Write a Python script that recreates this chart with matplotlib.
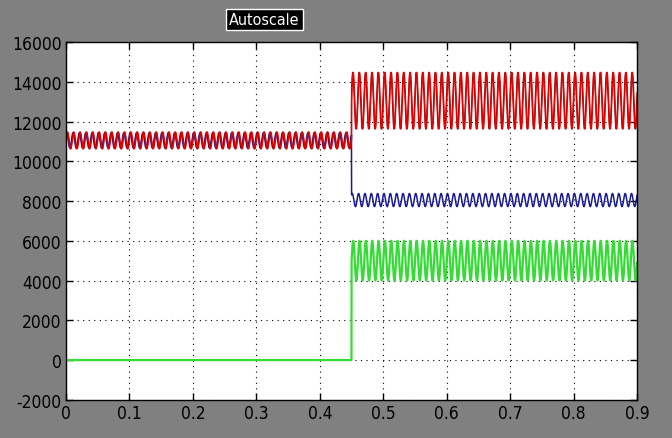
import matplotlib.pyplot as plt
import numpy as np

# scope signals: (t_start, t_end, centre, amplitude, freq Hz)
redSegs = [(0.0, 0.45, 11050, 420, 100), (0.45, 0.9, 13050, 1420, 100)]
blueSegs = [(0.0, 0.45, 11050, 380, 100), (0.45, 0.9, 8050, 330, 100)]
greenSegs = [(0.0, 0.45, 0, 0, 100), (0.45, 0.9, 5000, 1000, 100)]

xTicks = [0, 0.1, 0.2, 0.3, 0.4, 0.5, 0.6, 0.7, 0.8, 0.9]
xLabels = ["0", "0.1", "0.2", "0.3", "0.4", "0.5", "0.6", "0.7", "0.8", "0.9"]
yTicks = [-2000, 0, 2000, 4000, 6000, 8000, 10000, 12000, 14000, 16000]

plt.rcParams['axes.unicode_minus'] = False


def build(segs, phase, start=None):
    tt, yy = [], []
    if start is not None:
        tt.append(0.0)
        yy.append(start)
    for t0, t1, c, a, f in segs:
        t = np.arange(t0, t1, 0.0002)
        tt += t.tolist()
        yy += (c + a * np.sin(2 * np.pi * f * t + phase)).tolist()
    return np.array(tt), np.array(yy)


fig = plt.figure(figsize=(6.72, 4.39), dpi=100, facecolor='#808080')
ax = fig.add_axes([0.0982, 0.087, 0.85, 0.815])
ax.set_facecolor('white')

tB, yB = build(blueSegs, 0.9, start=0)
ax.plot(tB, yB, color='#1a1a99', linewidth=1.1)
tR2, yR2 = build(redSegs, 0.4)
ax.plot(tR2, yR2, color='#a00000', linewidth=1.0)
tR, yR = build(redSegs, 0.0, start=0)
ax.plot(tR, yR, color='#e80000', linewidth=1.0)
tG, yG = build(greenSegs, 0.0)
ax.plot(tG, yG, color='#33dd33', linewidth=1.6)

ax.set_xlim(0, 0.9)
ax.set_ylim(-2000, 16000)
ax.set_xticks(xTicks)
ax.set_xticklabels(xLabels)
ax.set_yticks(yTicks)
ax.grid(True, color='black', linestyle=(0, (1, 4)), linewidth=0.8)
ax.tick_params(direction='in', length=5, width=1, top=True, right=True,
               labelsize=12.5, colors='black', pad=3)
for lab in ax.get_xticklabels() + ax.get_yticklabels():
    lab.set_family(['DejaVu Sans'])
    lab.set_stretch('condensed')
for s in ax.spines.values():
    s.set_color('black')
    s.set_linewidth(1)

fig.text(0.393, 0.953, "Autoscale", color='white', fontsize=11.5, ha='center', va='center',
         family=['DejaVu Sans'], stretch='condensed',
         bbox=dict(facecolor='black', edgecolor='white', boxstyle='square,pad=0.2', linewidth=1))

plt.savefig("out.png", dpi=100, facecolor=fig.get_facecolor())
